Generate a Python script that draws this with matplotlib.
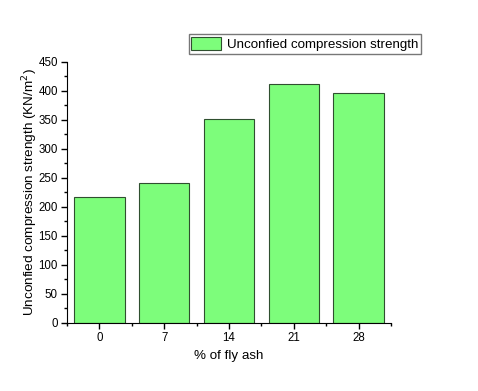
import matplotlib.pyplot as plt
from matplotlib.ticker import MultipleLocator

# % of fly ash vs unconfined compression strength
fly_ash = ['0', '7', '14', '21', '28']
strength = [217, 241, 352, 411, 396]

plt.rcParams['font.family'] = ['Liberation Sans', 'DejaVu Sans']

fig = plt.figure(figsize=(4.78, 3.91), dpi=100)
ax = fig.add_axes([0.140, 0.174, 0.678, 0.668])

x = range(len(fly_ash))
ax.bar(x, strength, width=0.78, color='#7dfd7b', edgecolor='#2f4f2f',
       linewidth=0.8, label='Unconfied compression strength')

ax.set_xlim(-0.5, 4.5)
ax.set_ylim(0, 450)
ax.set_xticks(list(x))
ax.set_xticklabels(fly_ash)
ax.set_xticks([i + 0.5 for i in range(-1, 5)], minor=True)
ax.yaxis.set_major_locator(MultipleLocator(50))
ax.yaxis.set_minor_locator(MultipleLocator(25))

for s in ['top', 'right']:
    ax.spines[s].set_visible(False)
ax.tick_params(which='major', direction='out', length=4, width=1, labelsize=8.3, pad=2.5)
ax.tick_params(which='minor', direction='out', length=2, width=1)

ax.set_xlabel('% of fly ash', fontsize=9.6)
ax.set_ylabel('Unconfied compression strength (KN/m$^2$)', fontsize=9.7)
ax.yaxis.set_label_coords(-0.084, 0.5)

ax.legend(loc='lower right', bbox_to_anchor=(1.092, 1.03), fontsize=9.6,
          frameon=True, fancybox=False, edgecolor='#555555', borderpad=0.2,
          handlelength=2.2, handleheight=1.15, handletextpad=0.45,
          borderaxespad=0)

fig.savefig('out.png', dpi=100)
